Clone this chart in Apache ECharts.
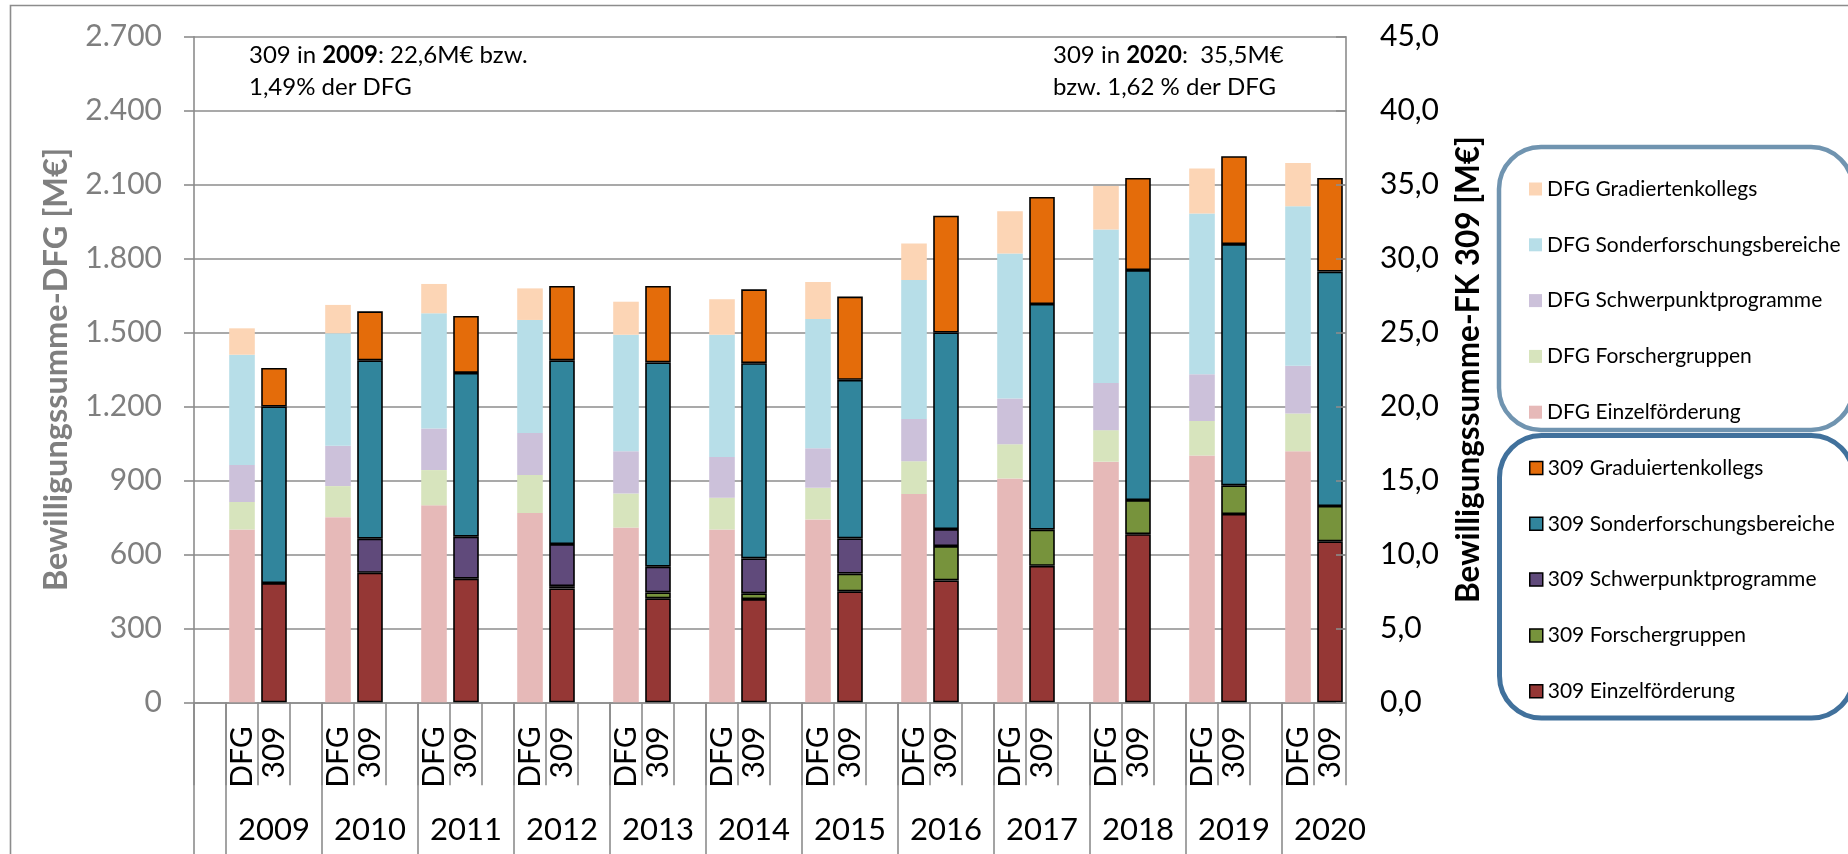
<!DOCTYPE html>
<html>
<head>
<meta charset="utf-8">
<title>Bewilligungssumme DFG / FK 309</title>
<script src="https://cdn.jsdelivr.net/npm/echarts@6/dist/echarts.min.js"></script>
<style>
  html, body { margin: 0; padding: 0; background: #fff; }
  #chart { width: 1848px; height: 854px; }
</style>
</head>
<body>
<div id="chart"></div>
<script>
// Jahre + Beschriftung der beiden Balken je Jahr
const years = ['2009', '2010', '2011', '2012', '2013', '2014', '2015', '2016', '2017', '2018', '2019', '2020'];
const barLabels = ['DFG', '309'];

// DFG gesamt [M€] -> linke Achse
const dfgEinzel = [701, 751, 799, 768, 709, 701, 742, 845, 908, 976, 1001, 1018];
const dfgForscher = [112, 126, 143, 154, 138, 129, 128, 133, 139, 128, 140, 154];
const dfgSchwerpunkt = [150, 164, 169, 170, 171, 165, 161, 171, 185, 191, 190, 193];
const dfgSfb = [447, 456, 467, 459, 473, 496, 524, 564, 589, 623, 652, 647];
const dfgGrad = [107, 115, 119, 128, 134, 144, 150, 148, 171, 176, 182, 176];

// Fachkollegium 309 [M€] -> rechte Achse
const fkEinzel = [8.06, 8.76, 8.36, 7.7, 7.03, 6.98, 7.5, 8.24, 9.23, 11.37, 12.73, 10.88];
const fkForscher = [0, 0, 0, 0.15, 0.4, 0.39, 1.2, 2.32, 2.44, 2.3, 1.94, 2.39];
const fkSchwerpunkt = [0, 2.3, 2.84, 2.85, 1.74, 2.36, 2.38, 1.15, 0, 0, 0, 0];
const fkSfb = [11.94, 12.06, 11.07, 12.42, 13.81, 13.2, 10.72, 13.29, 15.26, 15.55, 16.31, 15.85];
const fkGrad = [2.6, 3.31, 3.85, 5.03, 5.17, 4.99, 5.63, 7.9, 7.24, 6.23, 5.94, 6.33];

// Achsenbeschriftungen
const leftTicks = ['0', '300', '600', '900', '1.200', '1.500', '1.800', '2.100', '2.400', '2.700'];
const rightTicks = ['0,0', '5,0', '10,0', '15,0', '20,0', '25,0', '30,0', '35,0', '40,0', '45,0'];

const FONT = 'Lato, "Liberation Sans", sans-serif';
const GRID_GREY = '#8c8c8c';

// Excel-Layout: ein leerer Slot vorne, dann je Jahr [DFG, 309, leer] (ohne letzten leeren)
const slotLabels = [''];
const yearLabels = [''];
years.forEach(function (y, i) {
  slotLabels.push(barLabels[0], barLabels[1]);
  yearLabels.push('', y);
  if (i < years.length - 1) {
    slotLabels.push('');
    yearLabels.push('');
  }
});
// Trennlinien zwischen den Jahren (Punkte-Achse, eine Position mehr als Slots)
const boundaryPoints = [];
for (let i = 0; i <= slotLabels.length; i++) boundaryPoints.push('');

// 0 -> null, sonst zeichnet der Rahmen eine extra Linie
function toSlots(values, offset) {
  const arr = slotLabels.map(function () { return null; });
  values.forEach(function (v, i) { arr[1 + 3 * i + offset] = v === 0 ? null : v; });
  return arr;
}

const dfgSeries = [
  { name: 'DFG Einzelförderung', data: dfgEinzel, color: '#e6b9b8' },
  { name: 'DFG Forschergruppen', data: dfgForscher, color: '#d7e4bd' },
  { name: 'DFG Schwerpunktprogramme', data: dfgSchwerpunkt, color: '#ccc1da' },
  { name: 'DFG Sonderforschungsbereiche', data: dfgSfb, color: '#b7dee8' },
  { name: 'DFG Gradiertenkollegs', data: dfgGrad, color: '#fcd5b5' }
];
const fkSeries = [
  { name: '309 Einzelförderung', data: fkEinzel, color: '#953735' },
  { name: '309 Forschergruppen', data: fkForscher, color: '#77933c' },
  { name: '309 Schwerpunktprogramme', data: fkSchwerpunkt, color: '#604a7b' },
  { name: '309 Sonderforschungsbereiche', data: fkSfb, color: '#31859c' },
  { name: '309 Graduiertenkollegs', data: fkGrad, color: '#e46c0a' }
];

let series = [];
dfgSeries.forEach(function (s) {
  series.push({
    name: s.name,
    type: 'bar',
    stack: 'dfg',
    xAxisIndex: 0,
    yAxisIndex: 0,
    barWidth: '80%',
    barGap: '-100%',
    itemStyle: { color: s.color },
    data: toSlots(s.data, 0)
  });
});
fkSeries.forEach(function (s) {
  series.push({
    name: s.name,
    type: 'bar',
    stack: 'fk',
    xAxisIndex: 0,
    yAxisIndex: 1,
    barWidth: '80%',
    barGap: '-100%',
    itemStyle: { color: s.color, borderColor: '#000', borderWidth: 1.6 },
    data: toSlots(s.data, 1)
  });
});

const legendText = { fontFamily: FONT, fontSize: 21, lineHeight: 24, color: '#000' };

const option = {
  animation: false,
  textStyle: { fontFamily: FONT },
  title: [
    {
      left: 244, top: 34,
      text: '309 in {b|2009}: 22,6M€ bzw.\n1,49% der DFG',
      textStyle: {
        fontFamily: FONT, fontSize: 24, fontWeight: 'normal', color: '#000', lineHeight: 32,
        rich: { b: { fontFamily: FONT, fontSize: 24, fontWeight: 'bold', color: '#000', lineHeight: 32 } }
      }
    },
    {
      left: 1048, top: 34,
      text: '309 in {b|2020}:  35,5M€\nbzw. 1,62 % der DFG',
      textStyle: {
        fontFamily: FONT, fontSize: 24, fontWeight: 'normal', color: '#000', lineHeight: 32,
        rich: { b: { fontFamily: FONT, fontSize: 24, fontWeight: 'bold', color: '#000', lineHeight: 32 } }
      }
    }
  ],
  legend: [
    {
      orient: 'vertical', left: 1524, top: 172,
      itemWidth: 13, itemHeight: 13, itemGap: 31.8, icon: 'rect',
      textStyle: legendText,
      data: dfgSeries.map(function (s) { return s.name; }).reverse()
    },
    {
      orient: 'vertical', left: 1524, top: 451,
      itemWidth: 13, itemHeight: 13, itemGap: 31.8, icon: 'rect',
      itemStyle: { borderWidth: 1.5, borderColor: '#000' },
      textStyle: legendText,
      data: fkSeries.map(function (s) { return s.name; }).reverse()
    }
  ],
  graphic: [
    { type: 'rect', z: -1, shape: { x: 10.5, y: 5.5, width: 2000, height: 1000 },
      style: { fill: 'transparent', stroke: '#8c8c8c', lineWidth: 1.6 } },
    { type: 'rect', z: -1, shape: { x: 1499, y: 147, width: 354, height: 283, r: 42 },
      style: { fill: 'transparent', stroke: '#7094b0', lineWidth: 4.5 } },
    { type: 'rect', z: -1, shape: { x: 1499.5, y: 435.5, width: 354, height: 282.5, r: 42 },
      style: { fill: 'transparent', stroke: '#41719c', lineWidth: 5 } }
  ],
  grid: { left: 194, right: 502, top: 36.7, bottom: 151.7 },
  xAxis: [
    {
      type: 'category', position: 'bottom', data: slotLabels, boundaryGap: true,
      axisLine: { show: true, lineStyle: { color: GRID_GREY, width: 1.6 } },
      axisTick: { show: true, interval: 0, length: 83, lineStyle: { color: GRID_GREY, width: 1.6 } },
      axisLabel: { interval: 0, rotate: 90, margin: 24, fontFamily: FONT, fontSize: 30, color: '#000' }
    },
    {
      type: 'category', position: 'bottom', data: yearLabels, boundaryGap: true,
      axisLine: { show: false }, axisTick: { show: false },
      axisLabel: { interval: 0, margin: 112, fontFamily: FONT, fontSize: 31, color: '#000' }
    },
    {
      type: 'category', position: 'bottom', data: boundaryPoints, boundaryGap: false,
      axisLine: { show: false }, axisLabel: { show: false },
      axisTick: {
        show: true, length: 152, lineStyle: { color: GRID_GREY, width: 1.6 },
        interval: function (idx) { return idx === 0 || (idx % 3 === 1 && idx < slotLabels.length - 1); }
      }
    }
  ],
  yAxis: [
    {
      type: 'value', position: 'left', min: 0, max: 2700, interval: 300,
      name: 'Bewilligungssumme-DFG [M€]', nameLocation: 'middle', nameRotate: 90, nameGap: 121,
      nameTextStyle: { fontFamily: FONT, fontSize: 32.5, fontWeight: 'bold', color: '#7f7f7f' },
      axisLine: { show: true, lineStyle: { color: GRID_GREY, width: 1.6 } },
      axisTick: { show: true, length: 10, lineStyle: { color: GRID_GREY, width: 1.6 } },
      splitLine: { show: true, lineStyle: { color: GRID_GREY, width: 1.6 } },
      axisLabel: {
        margin: 32, fontFamily: FONT, fontSize: 30, color: '#7f7f7f',
        formatter: function (v) { return leftTicks[Math.round(v / 300)]; }
      }
    },
    {
      type: 'value', position: 'right', min: 0, max: 45, interval: 5, z: 5,
      name: 'Bewilligungssumme-FK 309 [M€]', nameLocation: 'middle', nameRotate: 90, nameGap: 107,
      nameTextStyle: { fontFamily: FONT, fontSize: 31.5, fontWeight: 'bold', color: '#000' },
      axisLine: { show: true, lineStyle: { color: GRID_GREY, width: 1.6 } },
      axisTick: { show: true, inside: true, length: 10, lineStyle: { color: GRID_GREY, width: 1.6 } },
      splitLine: { show: false },
      axisLabel: {
        margin: 34, fontFamily: FONT, fontSize: 30, color: '#000',
        formatter: function (v) { return rightTicks[Math.round(v / 5)]; }
      }
    }
  ],
  series: series
};

const myChart = echarts.init(document.getElementById('chart'));
myChart.setOption(option);
</script>
</body>
</html>
